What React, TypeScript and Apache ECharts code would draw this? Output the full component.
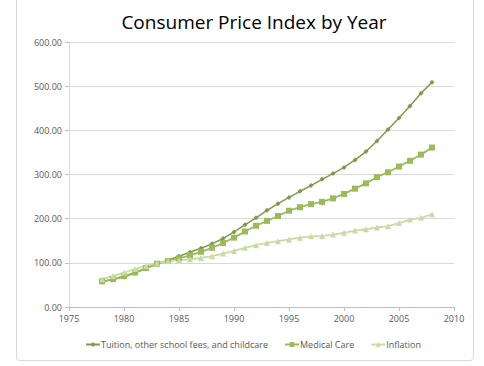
import React, { useEffect, useRef } from "react";
import * as echarts from "echarts";

const years: number[] = [];
for (let y = 1978; y <= 2008; y++) years.push(y);

const tuition = [57, 62, 68, 77, 87, 98, 106, 115, 124, 133, 143, 155, 170, 186, 202, 219, 234, 248, 262, 275, 289, 302, 316, 333, 352, 376, 402, 428, 455, 484, 509];
const medical = [58, 63, 70, 78, 88, 98, 104, 110, 117, 125, 134, 145, 157, 171, 184, 195, 206, 218, 226, 233, 238, 246, 256, 268, 280, 294, 305, 318, 331, 345, 361];
const inflation = [63, 70, 78, 86, 93, 100, 104, 106, 108, 111, 115, 121, 127, 134, 140, 145, 149, 153, 157, 160, 161, 164, 168, 173, 176, 180, 183, 190, 198, 202, 210];

const seriesNames = ["Tuition, other school fees, and childcare", "Medical Care", "Inflation"];
const title = "Consumer Price Index by Year";

const FONT = "'Open Sans', 'Noto Sans', sans-serif";

export default function App() {
  const ref = useRef<HTMLDivElement>(null);
  useEffect(() => {
    if (!ref.current) return;
    const chart = echarts.init(ref.current, undefined, { renderer: "svg" });
    const pair = (vals: number[]) => years.map((y, i) => [y, vals[i]]);
    chart.setOption({
      animation: false,
      backgroundColor: "#ffffff",
      textStyle: { fontFamily: FONT },
      title: {
        text: title,
        left: 249,
        textAlign: "center",
        top: 7,
        textStyle: { fontFamily: FONT, fontSize: 19, fontWeight: "normal", color: "#000000" },
      },
      graphic: [
        {
          type: "rect",
          shape: { x: 16.5, y: -5, width: 457, height: 365.5, r: 3 },
          style: { fill: "none", stroke: "#d9d9d9", lineWidth: 1 },
          silent: true,
        },
      ],
      grid: { left: 69, right: 30, top: 42, bottom: 59 },
      xAxis: {
        type: "value",
        min: 1975,
        max: 2010,
        interval: 5,
        axisLine: { show: true, lineStyle: { color: "#bfbfbf" } },
        axisTick: { show: true, length: 4, inside: false, lineStyle: { color: "#bfbfbf" } },
        splitLine: { show: false },
        axisLabel: {
          color: "#595959",
          fontSize: 9,
          fontFamily: FONT,
          margin: 7,
          formatter: (v: number) => String(v),
        },
      },
      yAxis: {
        type: "value",
        min: 0,
        max: 600,
        interval: 100,
        axisLine: { show: true, lineStyle: { color: "#d9d9d9" } },
        axisTick: { show: true, length: 4, lineStyle: { color: "#bfbfbf" } },
        splitLine: { show: true, lineStyle: { color: "#d9d9d9", width: 1 } },
        axisLabel: {
          color: "#595959",
          fontSize: 9,
          fontFamily: FONT,
          margin: 7,
          formatter: (v: number) => v.toFixed(2),
        },
      },
      legend: {
        bottom: 12,
        left: 80,
        itemWidth: 14,
        itemHeight: 6,
        itemGap: 16,
        textStyle: { color: "#595959", fontSize: 9, fontFamily: FONT, padding: [0, 0, 0, -4] },
        data: seriesNames,
      },
      series: [
        {
          name: seriesNames[0],
          type: "line",
          data: pair(tuition),
          symbol: "diamond",
          symbolSize: 5,
          lineStyle: { color: "#7f9a48", width: 1.5 },
          itemStyle: { color: "#7f9a48" },
        },
        {
          name: seriesNames[1],
          type: "line",
          data: pair(medical),
          symbol: "rect",
          symbolSize: 6,
          lineStyle: { color: "#9bbb59", width: 1.8 },
          itemStyle: { color: "#9bbb59" },
        },
        {
          name: seriesNames[2],
          type: "line",
          data: pair(inflation),
          symbol: "triangle",
          symbolSize: 6,
          lineStyle: { color: "#c9dba5", width: 1.8 },
          itemStyle: { color: "#c9dba5" },
        },
      ],
    });
    return () => chart.dispose();
  }, []);
  return (
    <div
      ref={ref}
      style={{ position: "fixed", left: 0, top: 0, width: 484, height: 366 }}
    />
  );
}
